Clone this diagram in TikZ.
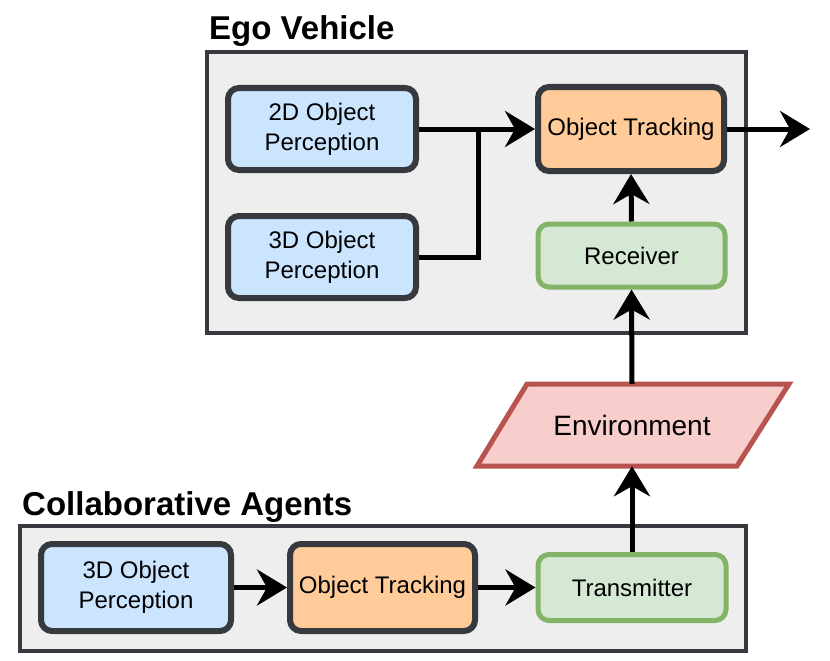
\documentclass[tikz,border=0pt]{standalone}
\usepackage{fontspec}
\setmainfont{Liberation Sans}
\usetikzlibrary{arrows.meta}
\definecolor{frame}{HTML}{36393D}
\definecolor{groupfill}{HTML}{EEEEEE}
\definecolor{bluefill}{HTML}{CCE5FF}
\definecolor{orangefill}{HTML}{FFCC99}
\definecolor{greenfill}{HTML}{D5E8D4}
\definecolor{greenline}{HTML}{82B366}
\definecolor{redfill}{HTML}{F8CECC}
\definecolor{redline}{HTML}{B85450}
\tikzset{
  group/.style={draw=frame, fill=groupfill, line width=3.5pt},
  title/.style={anchor=base west, font=\fontsize{33}{37}\selectfont\bfseries, inner sep=0pt},
  proc/.style={rounded corners=11pt, line width=6pt, draw=frame, align=center,
    font=\fontsize{24}{30}\selectfont, inner sep=0pt},
  bluebox/.style={proc, fill=bluefill},
  orangebox/.style={proc, fill=orangefill},
  greenbox/.style={proc, fill=greenfill, draw=greenline, line width=5pt},
  conn/.style={line width=5pt, -{Stealth[length=30pt,width=36pt,inset=10pt]}},
  plain/.style={line width=5pt},
}
\begin{document}
\begin{tikzpicture}[x=1pt,y=-1pt]
\useasboundingbox (0,0) rectangle (830,661);
% groups
\draw[group] (207,52) rectangle (746,333);
\draw[group] (20,526) rectangle (746,651);
\node[title] (egot) at (209,40) {Ego Vehicle};
\node[title] (colt) at (22,515) {Collaborative Agents};
% ego vehicle nodes
\node[bluebox, minimum width=188pt, minimum height=82pt] (p2d) at (322,129) {2D Object\\Perception};
\node[bluebox, minimum width=188pt, minimum height=82pt] (p3d) at (322,257) {3D Object\\Perception};
\node[orangebox, minimum width=186pt, minimum height=84pt] (ot) at (631,129) {Object Tracking};
\node[greenbox, minimum width=187pt, minimum height=63pt] (rx) at (631.5,255.5) {Receiver};
\coordinate (out) at (810,129);
\coordinate (merge) at (478,129);
% environment
\draw[line width=5pt, draw=redline, fill=redfill] (527,384) -- (789,384) -- (737,466) -- (477,466) -- cycle;
\node[minimum width=260pt, minimum height=82pt, inner sep=0pt, font=\fontsize{28}{32}\selectfont] (env) at (632,425) {Environment};
% collaborative nodes
\node[bluebox, minimum width=190pt, minimum height=87pt] (cp3d) at (136,587.5) {3D Object\\Perception};
\node[orangebox, minimum width=185pt, minimum height=87pt] (cot) at (382.5,587.5) {Object Tracking};
\node[greenbox, minimum width=188pt, minimum height=66pt] (tx) at (632,587.5) {Transmitter};
% connectors
\draw[conn] (p2d.east) -- (ot.west);
\draw[plain] (p3d.east) -| (merge);
\draw[conn] (ot.east) -- (out);
\draw[conn] (rx.north) -- (ot.south);
\draw[conn] (env.north) -- (rx.south);
\draw[conn] (tx.north) -- (env.south);
\draw[conn] (cp3d.east) -- (cot.west);
\draw[conn] (cot.east) -- (tx.west);
\end{tikzpicture}
\end{document}
